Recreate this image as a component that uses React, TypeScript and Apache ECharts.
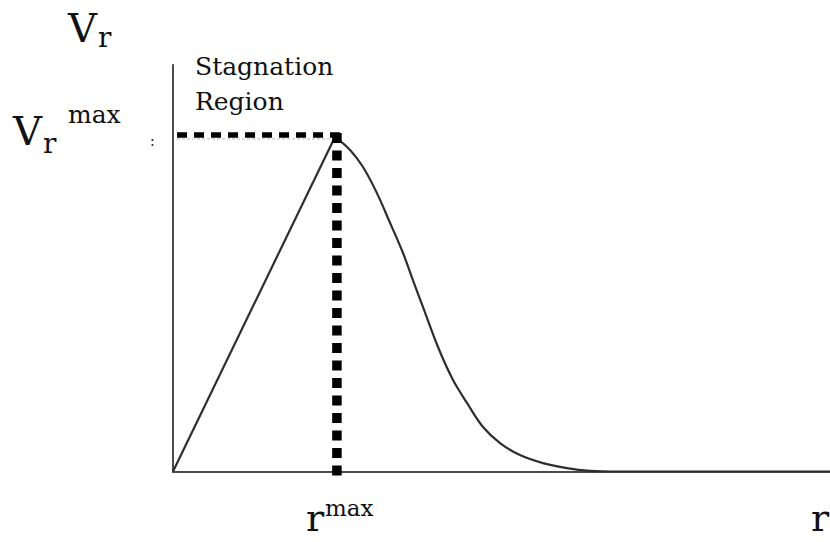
import React, { useEffect, useRef } from "react";
import * as echarts from "echarts";

// Radial velocity profile, r in units of r_max, V in units of V_r max
const risingR = [0, 1];
const risingV = [0, 1];

const fallingR = [1, 1.093, 1.173, 1.259, 1.34, 1.42, 1.481, 1.543, 1.636, 1.728, 1.815, 1.914, 2.019, 2.142, 2.284, 2.432, 2.574, 2.75, 3.2, 4.06];
const fallingV = [1, 0.961, 0.91, 0.832, 0.743, 0.653, 0.572, 0.492, 0.372, 0.274, 0.205, 0.133, 0.085, 0.049, 0.025, 0.01, 0.002, 0, 0, 0];

// Stagnation-region guides through the peak
const guideR = [0.025, 1.012];
const guideV = [1.006, -0.02];
const faintGuideV = 0.994;

const X_MAX = 4.056;
const Y_MAX = 1.215;

const SERIF = "DejaVu Serif";

const pair = (xs: number[], ys: number[]) => xs.map((x, i) => [x, ys[i]]);

// Left-aligned text placed by its baseline
function label(text: string, x: number, baseline: number, size: number) {
  return {
    type: "text",
    x,
    y: baseline - 0.35 * size,
    style: {
      text,
      fill: "#111",
      font: `${size}px "${SERIF}"`,
      align: "left",
      verticalAlign: "middle",
    },
    silent: true,
  };
}

export default function App() {
  const ref = useRef<HTMLDivElement>(null);

  useEffect(() => {
    if (!ref.current) return;
    const chart = echarts.init(ref.current, null, { renderer: "svg" });
    chart.setOption({
      animation: false,
      backgroundColor: "#fff",
      grid: { left: 173, right: 0, top: 65, bottom: 70.5 },
      xAxis: {
        type: "value",
        min: 0,
        max: X_MAX,
        axisLine: { show: true, lineStyle: { color: "#4a4a4a", width: 2.2 } },
        axisTick: { show: false },
        axisLabel: { show: false },
        splitLine: { show: false },
      },
      yAxis: {
        type: "value",
        min: 0,
        max: Y_MAX,
        axisLine: { show: true, lineStyle: { color: "#4a4a4a", width: 2 } },
        axisTick: { show: false },
        axisLabel: { show: false },
        splitLine: { show: false },
      },
      series: [
        {
          type: "line",
          data: [
            [guideR[0], faintGuideV],
            [1, faintGuideV],
          ],
          symbol: "none",
          lineStyle: { color: "#b8b8b8", width: 1, type: [3, 2] },
          z: 1,
        },
        {
          type: "line",
          data: pair(risingR, risingV),
          symbol: "none",
          lineStyle: { color: "#2e2e2e", width: 2.2 },
          z: 3,
        },
        {
          type: "line",
          data: pair(fallingR, fallingV),
          symbol: "none",
          smooth: 0.35,
          lineStyle: { color: "#2e2e2e", width: 2.2 },
          z: 3,
        },
        {
          type: "line",
          data: [
            [guideR[0], guideV[0]],
            [guideR[1] + 0.018, guideV[0]],
          ],
          symbol: "none",
          clip: false,
          lineStyle: { color: "#000", width: 5.5, type: [10, 7], cap: "butt" },
          z: 4,
        },
        {
          type: "line",
          data: [
            [guideR[1], guideV[0] + 0.006],
            [guideR[1], guideV[1]],
          ],
          symbol: "none",
          clip: false,
          lineStyle: { color: "#000", width: 9.5, type: [10, 7.5], cap: "butt" },
          z: 4,
        },
      ],
      graphic: [
        label("V", 68, 42, 40),
        label("r", 98, 47, 28),
        label("V", 13, 145, 40),
        label("r", 43, 153, 28),
        label("max", 68, 123, 25),
        label("Stagnation", 195, 75, 25),
        label("Region", 195, 110, 25),
        label("r", 306, 531, 38),
        label("max", 325, 516, 23),
        label("r", 811, 531, 38),
        label(":", 150, 146, 14),
      ],
    });
    return () => chart.dispose();
  }, []);

  return (
    <div
      ref={ref}
      style={{ position: "fixed", left: 0, top: 0, width: 830, height: 542, background: "#fff" }}
    />
  );
}
